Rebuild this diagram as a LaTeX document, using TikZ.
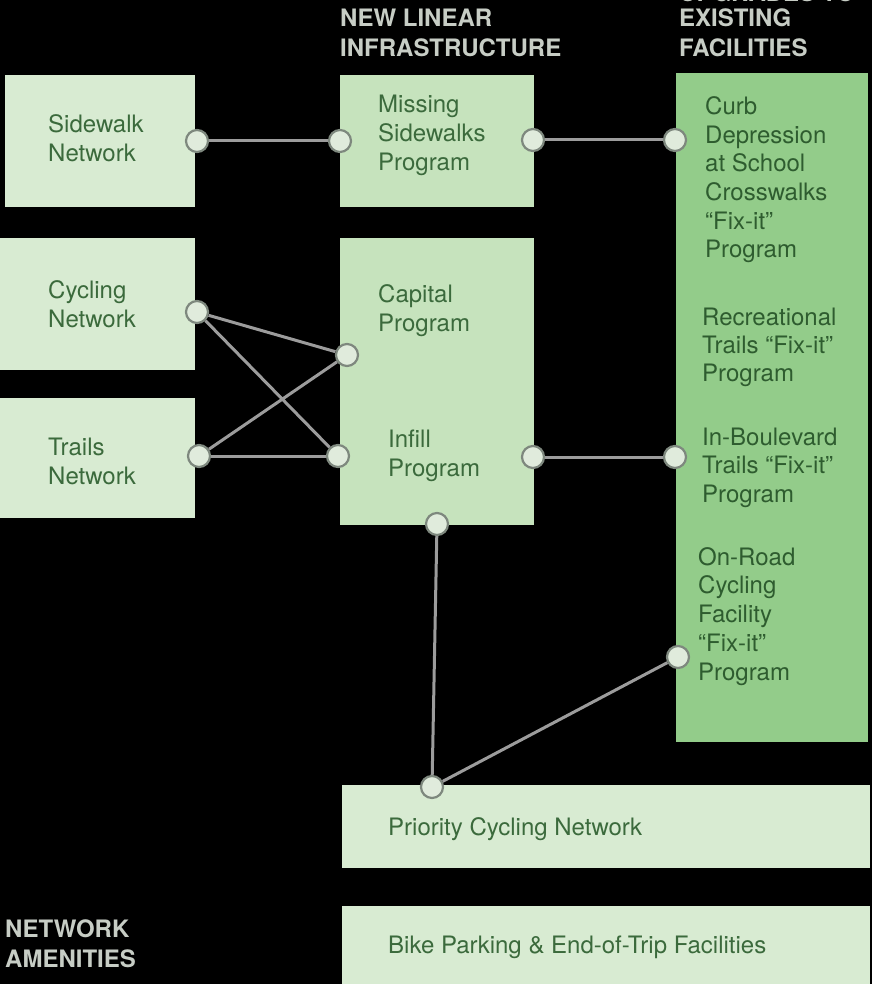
\documentclass[tikz,border=0pt]{standalone}
\usepackage{fontspec}
\setmainfont{TeX Gyre Heros}
\definecolor{bglight}{HTML}{D8EBD2}
\definecolor{bgmid}{HTML}{C6E3BD}
\definecolor{bgdark}{HTML}{93CC8A}
\definecolor{txt}{HTML}{3B6A3C}
\definecolor{txtdark}{HTML}{2E5C2F}
\definecolor{hdr}{HTML}{C7CDC5}
\definecolor{linecol}{HTML}{9C9C9C}
\definecolor{ringcol}{HTML}{7E887E}
\definecolor{ringfill}{HTML}{E0EBDC}
\tikzset{
  boxbase/.style={rectangle, anchor=north west, inner sep=0pt, draw=none},
  lightbox/.style={boxbase, fill=bglight},
  midbox/.style={boxbase, fill=bgmid},
  darkbox/.style={boxbase, fill=bgdark},
  label/.style={anchor=base west, inner sep=0pt, align=left, text=txt,
    font=\fontsize{24}{29}\selectfont},
  darklabel/.style={label, text=txtdark, font=\fontsize{24}{28.7}\selectfont},
  header/.style={anchor=base west, inner sep=0pt, align=left, text=hdr,
    font=\bfseries\fontsize{24}{30}\selectfont},
  port/.style={circle, draw=ringcol, line width=2.2pt, fill=ringfill,
    minimum size=22pt, inner sep=0pt},
  conn/.style={draw=linecol, line width=3pt}
}
\begin{document}
\begin{tikzpicture}[x=1pt,y=-1pt]
\fill[black] (0,0) rectangle (872,984);
\useasboundingbox (0,0) rectangle (872,984);
\clip (0,0) rectangle (872,984);

% boxes
\node[lightbox, minimum width=190pt, minimum height=132pt] (sidewalk) at (5,75) {};
\node[lightbox, minimum width=195pt, minimum height=132pt] (cycling) at (0,238) {};
\node[lightbox, minimum width=195pt, minimum height=120pt] (trails) at (0,398) {};
\node[midbox, minimum width=194pt, minimum height=132pt] (missing) at (340,75) {};
\node[midbox, minimum width=194pt, minimum height=287pt] (capinf) at (340,238) {};
\node[darkbox, minimum width=192pt, minimum height=669pt] (fixit) at (676,73) {};
\node[lightbox, minimum width=528pt, minimum height=83pt] (priority) at (342,785) {};
\node[lightbox, minimum width=528pt, minimum height=80pt] (bike) at (342,906) {};

% labels (anchor = baseline of the last line)
\node[label] (tsidewalk) at (48,162) {Sidewalk\\Network};
\node[label] (tcycling) at (48,327) {Cycling\\Network};
\node[label] (ttrails) at (48,484) {Trails\\Network};
\node[label] (tmissing) at (378,171) {Missing\\Sidewalks\\Program};
\node[label] (tcapital) at (378,331) {Capital\\Program};
\node[label] (tinfill) at (388,476) {Infill\\Program};
\node[darklabel] (tcurb) at (705,258) {Curb\\Depression\\at School\\Crosswalks\\“Fix-it”\\Program};
\node[darklabel, font=\fontsize{24}{28}\selectfont] (trec) at (702,381) {Recreational\\Trails “Fix-it”\\Program};
\node[darklabel, font=\fontsize{24}{28.5}\selectfont] (tblvd) at (702,502) {In-Boulevard\\Trails “Fix-it”\\Program};
\node[darklabel] (troad) at (698,680) {On-Road\\Cycling\\Facility\\“Fix-it”\\Program};
\node[label] (tpriority) at (388,835) {Priority Cycling Network};
\node[label] (tbike) at (388,953) {Bike Parking \& End-of-Trip Facilities};

% headers
\node[header] (hnew) at (340,57) {NEW LINEAR\\INFRASTRUCTURE};
\node[header] (hupg) at (679,2) {UPGRADES TO};
\node[header] (hexist) at (679,57) {EXISTING\\FACILITIES};
\node[header] (hamen) at (5,967) {NETWORK\\AMENITIES};

% ports
\node[port] (p1) at (197,141) {};
\node[port] (p2) at (340,141) {};
\node[port] (p3) at (533,140) {};
\node[port] (p4) at (675,140) {};
\node[port] (p5) at (197,312) {};
\node[port] (p6) at (347,355) {};
\node[port] (p7) at (199,456) {};
\node[port] (p8) at (338,456) {};
\node[port] (p9) at (533,457) {};
\node[port] (p10) at (675,457) {};
\node[port] (p11) at (437,524) {};
\node[port] (p12) at (678,657) {};
\node[port] (p13) at (432,787) {};

% connectors
\draw[conn] (p1) -- (p2);
\draw[conn] (p3) -- (p4);
\draw[conn] (p5) -- (p6);
\draw[conn] (p5) -- (p8);
\draw[conn] (p7) -- (p6);
\draw[conn] (p7) -- (p8);
\draw[conn] (p9) -- (p10);
\draw[conn] (p11) -- (p13);
\draw[conn] (p13) -- (p12);
\end{tikzpicture}
\end{document}
